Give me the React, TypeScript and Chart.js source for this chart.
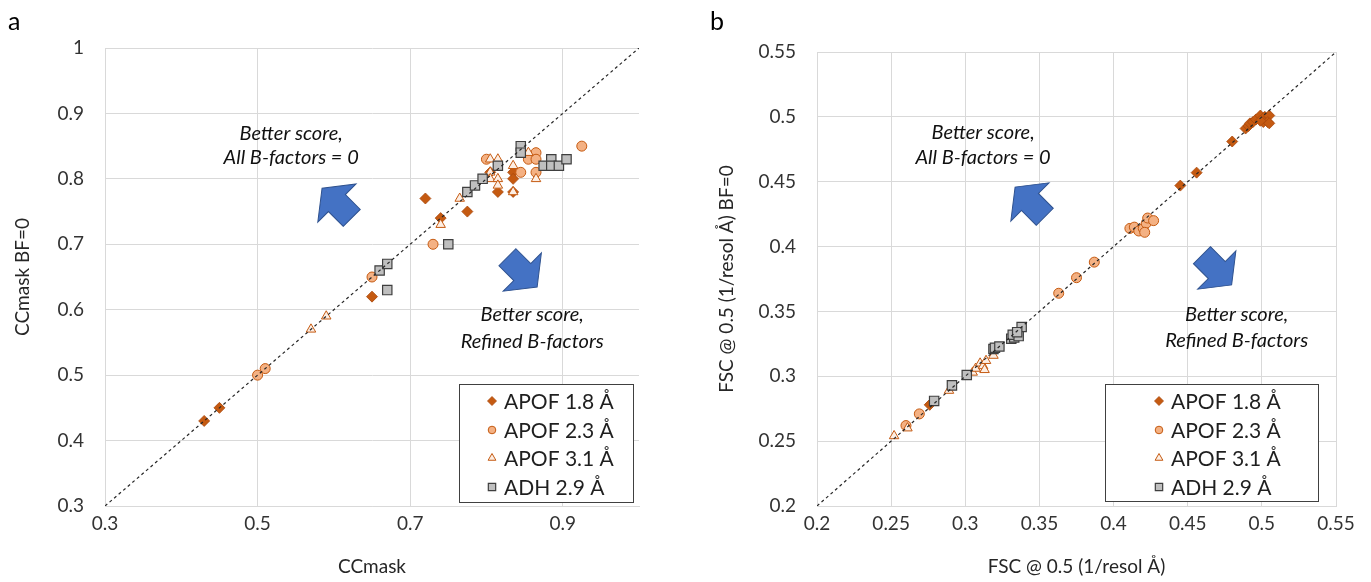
import React, { useEffect, useRef } from "react";
import { Chart, registerables } from "chart.js";
import { drawPoint } from "chart.js/helpers";

Chart.register(...registerables);

const FONT = "Lato, 'Open Sans', sans-serif";

// ---------- Panel a data (CCmask vs CCmask BF=0) ----------
const aApof18: [number, number][] = [
  [0.43, 0.43], [0.45, 0.45], [0.65, 0.62], [0.72, 0.77], [0.74, 0.74], [0.775, 0.75],
  [0.805, 0.81], [0.815, 0.78], [0.835, 0.81], [0.835, 0.8], [0.835, 0.78],
];
const aApof23: [number, number][] = [
  [0.5, 0.5], [0.51, 0.51], [0.65, 0.65], [0.73, 0.7], [0.8, 0.83], [0.845, 0.81],
  [0.855, 0.83], [0.865, 0.84], [0.865, 0.83], [0.865, 0.81], [0.925, 0.85],
];
const aApof31: [number, number][] = [
  [0.57, 0.57], [0.59, 0.59], [0.74, 0.73], [0.765, 0.77], [0.805, 0.83], [0.815, 0.83],
  [0.855, 0.84], [0.835, 0.82], [0.805, 0.81], [0.805, 0.8], [0.815, 0.8], [0.815, 0.79],
  [0.835, 0.78], [0.865, 0.8],
];
const aAdh: [number, number][] = [
  [0.66, 0.66], [0.67, 0.67], [0.67, 0.63], [0.75, 0.7], [0.775, 0.78], [0.785, 0.79],
  [0.795, 0.8], [0.815, 0.82], [0.845, 0.85], [0.845, 0.84], [0.875, 0.82], [0.885, 0.83],
  [0.885, 0.82], [0.895, 0.82], [0.905, 0.83],
];
const aXTicks = [0.3, 0.5, 0.7, 0.9];
const aYTicks = [0.3, 0.4, 0.5, 0.6, 0.7, 0.8, 0.9, 1.0];
const aDiagonal: [number, number][] = [[0.3, 0.3], [1.0, 1.0]];

// ---------- Panel b data (FSC @ 0.5) ----------
const bApof18: [number, number][] = [
  [0.276, 0.278], [0.445, 0.447], [0.456, 0.457], [0.48, 0.481], [0.489, 0.491], [0.491, 0.493],
  [0.492, 0.495], [0.494, 0.496], [0.496, 0.498], [0.499, 0.501], [0.502, 0.5], [0.505, 0.501],
  [0.501, 0.496], [0.504, 0.496], [0.499, 0.497], [0.505, 0.495],
];
const bApof23: [number, number][] = [
  [0.26, 0.262], [0.269, 0.271], [0.363, 0.364], [0.375, 0.376], [0.387, 0.388], [0.411, 0.414],
  [0.414, 0.415], [0.417, 0.412], [0.42, 0.414], [0.422, 0.418], [0.423, 0.422], [0.427, 0.42],
  [0.421, 0.411],
];
const bApof31: [number, number][] = [
  [0.252, 0.254], [0.261, 0.26], [0.289, 0.289], [0.305, 0.303], [0.307, 0.306], [0.31, 0.31],
  [0.312, 0.308], [0.313, 0.305], [0.314, 0.312], [0.319, 0.316],
];
const bAdh: [number, number][] = [
  [0.279, 0.281], [0.291, 0.293], [0.301, 0.301], [0.319, 0.321], [0.32, 0.322], [0.323, 0.323],
  [0.331, 0.329], [0.333, 0.33], [0.332, 0.332], [0.336, 0.331], [0.338, 0.338], [0.335, 0.334],
];
const bTicks = [0.2, 0.25, 0.3, 0.35, 0.4, 0.45, 0.5, 0.55];
const bDiagonal: [number, number][] = [[0.2, 0.2], [0.55, 0.55]];

const seriesNames = ["APOF 1.8 Å", "APOF 2.3 Å", "APOF 3.1 Å", "ADH 2.9 Å"];

// ---------- styles ----------
const seriesStyles = [
  { pointStyle: "rectRot", radius: 5.5, bg: "#C55A11", border: "#A9480B", bw: 0.8, lr: 4.5 },
  { pointStyle: "circle", radius: 5, bg: "#F4B183", border: "#C55A11", bw: 1, lr: 3.8 },
  { pointStyle: "triangle", radius: 5.5, bg: "#FDEEE3", border: "#C55A11", bw: 1, lr: 4.5 },
  { pointStyle: "rect", radius: 6.6, bg: "#BFBFBF", border: "#3F3F3F", bw: 1.2, lr: 5.2 },
];

const fmt = (v: number) => String(Math.round(v * 100) / 100);

function drawArrow(ctx: CanvasRenderingContext2D, cx: number, cy: number, angle: number) {
  const L = 21, SW = 12, HW = 27, HB = 0;
  const pts = [
    [-L, -SW], [HB, -SW], [HB, -HW], [L, 0], [HB, HW], [HB, SW], [-L, SW],
  ];
  ctx.save();
  ctx.translate(cx, cy);
  ctx.rotate(angle);
  ctx.beginPath();
  pts.forEach(([px, py], i) => (i === 0 ? ctx.moveTo(px, py) : ctx.lineTo(px, py)));
  ctx.closePath();
  ctx.fillStyle = "#4472C4";
  ctx.fill();
  ctx.strokeStyle = "#2F528F";
  ctx.lineWidth = 1;
  ctx.stroke();
  ctx.restore();
}

type PanelCfg = {
  series: [number, number][][];
  diagonal: [number, number][];
  xTicks: number[];
  yTicks: number[];
  min: number;
  xMax: number;
  yMax: number;
  xTitle: string;
  yTitle: string;
  yTitlePad: number;
  yAxisWidth: number;
  padRight: number;
  padTop: number;
  letter: string;
  letterX: number;
  texts: { text: string; x: number; y: number }[];
  arrows: { x: number; y: number; angle: number }[];
  legend: { fromRight: number; width: number; fromBottom: number; height: number; symX: number; textX: number; rows: number[] };
  width: number;
};

const panelA: PanelCfg = {
  series: [aApof18, aApof23, aApof31, aAdh],
  diagonal: aDiagonal,
  xTicks: aXTicks,
  yTicks: aYTicks,
  min: 0.3,
  xMax: 1.0,
  yMax: 1.0,
  xTitle: "CCmask",
  yTitle: "CCmask BF=0",
  yTitlePad: 11,
  yAxisWidth: 105,
  padRight: 47,
  padTop: 48,
  letter: "a",
  letterX: 8,
  texts: [
    { text: "Better score,", x: 0.544, y: 0.87 },
    { text: "All B-factors = 0", x: 0.544, y: 0.832 },
    { text: "Better score,", x: 0.86, y: 0.592 },
    { text: "Refined B-factors", x: 0.86, y: 0.552 },
  ],
  arrows: [
    { x: 0.604, y: 0.763, angle: (-3 * Math.PI) / 4 },
    { x: 0.847, y: 0.6575, angle: Math.PI / 4 },
  ],
  legend: { fromRight: 180, width: 174, fromBottom: 122, height: 118, symX: 33, textX: 45, rows: [17, 46, 74, 103] },
  width: 686,
};

const panelB: PanelCfg = {
  series: [bApof18, bApof23, bApof31, bAdh],
  diagonal: bDiagonal,
  xTicks: bTicks,
  yTicks: bTicks,
  min: 0.2,
  xMax: 0.55,
  yMax: 0.55,
  xTitle: "FSC @ 0.5 (1/resol Å)",
  yTitle: "FSC @ 0.5 (1/resol Å) BF=0",
  yTitlePad: 29,
  yAxisWidth: 131,
  padRight: 35,
  padTop: 52,
  letter: "b",
  letterX: 24,
  texts: [
    { text: "Better score,", x: 0.312, y: 0.4877 },
    { text: "All B-factors = 0", x: 0.312, y: 0.4685 },
    { text: "Better score,", x: 0.483, y: 0.3477 },
    { text: "Refined B-factors", x: 0.483, y: 0.3277 },
  ],
  arrows: [
    { x: 0.3436, y: 0.4344, angle: (-3 * Math.PI) / 4 },
    { x: 0.4696, y: 0.3819, angle: Math.PI / 4 },
  ],
  legend: { fromRight: 231, width: 213, fromBottom: 122, height: 117, symX: 54, textX: 66, rows: [17, 46, 74, 103] },
  width: 685,
};

function makeOverlay(cfg: PanelCfg) {
  return {
    id: "overlay",
    afterDraw(chart: any) {
      const { ctx, chartArea } = chart;
      const xs = chart.scales.x;
      const ys = chart.scales.y;
      ctx.save();
      // panel letter
      ctx.font = `25px ${FONT}`;
      ctx.fillStyle = "#000";
      ctx.textAlign = "left";
      ctx.textBaseline = "alphabetic";
      ctx.fillText(cfg.letter, cfg.letterX, 30);

      // annotation text
      ctx.font = `italic 20px ${FONT}`;
      ctx.fillStyle = "#111";
      ctx.textAlign = "center";
      ctx.textBaseline = "middle";
      for (const t of cfg.texts) {
        ctx.fillText(t.text, xs.getPixelForValue(t.x), ys.getPixelForValue(t.y));
      }
      // arrows
      for (const a of cfg.arrows) {
        drawArrow(ctx, xs.getPixelForValue(a.x), ys.getPixelForValue(a.y), a.angle);
      }
      // legend box
      const lg = cfg.legend;
      const bx = chartArea.right - lg.fromRight;
      const by = chartArea.bottom - lg.fromBottom;
      ctx.fillStyle = "#fff";
      ctx.fillRect(bx, by, lg.width, lg.height);
      ctx.strokeStyle = "#404040";
      ctx.lineWidth = 1;
      ctx.strokeRect(bx + 0.5, by + 0.5, lg.width, lg.height);
      seriesNames.forEach((name, i) => {
        const st = seriesStyles[i];
        const ry = by + lg.rows[i];
        ctx.fillStyle = st.bg;
        ctx.strokeStyle = st.border;
        ctx.lineWidth = st.bw;
        drawPoint(ctx, { pointStyle: st.pointStyle as any, radius: st.lr, borderWidth: st.bw, rotation: 0 } as any, bx + lg.symX, ry);
        ctx.fillStyle = "#1f1f1f";
        ctx.font = `21px ${FONT}`;
        ctx.textAlign = "left";
        ctx.textBaseline = "middle";
        ctx.fillText(name, bx + lg.textX, ry + 1);
      });
      ctx.restore();
    },
  };
}

function Panel({ cfg, left }: { cfg: PanelCfg; left: number }) {
  const ref = useRef<HTMLCanvasElement | null>(null);
  useEffect(() => {
    if (!ref.current) return;
    const datasets: any[] = [
      {
        type: "line",
        data: cfg.diagonal.map(([x, y]) => ({ x, y })),
        borderColor: "#262626",
        borderWidth: 1.2,
        borderDash: [3, 3],
        pointRadius: 0,
        fill: false,
        order: 0,
      },
      ...cfg.series.map((s, i) => ({
        type: "scatter",
        label: seriesNames[i],
        data: s.map(([x, y]) => ({ x, y })),
        pointStyle: seriesStyles[i].pointStyle,
        pointRadius: seriesStyles[i].radius,
        pointBackgroundColor: seriesStyles[i].bg,
        pointBorderColor: seriesStyles[i].border,
        pointBorderWidth: seriesStyles[i].bw,
        order: 5 - i,
      })),
    ];
    const tickFont = { family: FONT, size: 19 };
    const titleFont = { family: FONT, size: 19 };
    const chart = new Chart(ref.current, {
      type: "scatter",
      data: { datasets },
      options: {
        animation: false,
        responsive: false,
        devicePixelRatio: 1,
        layout: { padding: { left: 0, top: cfg.padTop, right: cfg.padRight, bottom: 0 } },
        plugins: { legend: { display: false }, tooltip: { enabled: false } },
        scales: {
          x: {
            type: "linear",
            min: cfg.min,
            max: cfg.xMax,
            afterBuildTicks: (s: any) => {
              s.ticks = cfg.xTicks.map((v) => ({ value: v }));
            },
            afterFit: (s: any) => {
              s.height = 76;
            },
            grid: { color: "#d9d9d9", drawTicks: false, lineWidth: 1 },
            border: { display: true, color: "#d9d9d9" },
            ticks: { font: tickFont, color: "#333", padding: 6, maxRotation: 0, autoSkip: false, callback: (v: any) => fmt(Number(v)) },
            title: { display: true, text: cfg.xTitle, font: titleFont, color: "#262626", padding: { top: 0, bottom: 4 } },
          },
          y: {
            type: "linear",
            min: cfg.min,
            max: cfg.yMax,
            afterBuildTicks: (s: any) => {
              s.ticks = cfg.yTicks.map((v) => ({ value: v }));
            },
            afterFit: (s: any) => {
              s.width = cfg.yAxisWidth;
            },
            grid: { color: "#d9d9d9", drawTicks: false, lineWidth: 1 },
            border: { display: true, color: "#d9d9d9" },
            ticks: { font: tickFont, color: "#333", padding: 21, autoSkip: false, callback: (v: any) => fmt(Number(v)) },
            title: { display: true, text: cfg.yTitle, font: titleFont, color: "#262626", padding: { top: cfg.yTitlePad, bottom: 0 } },
          },
        },
      } as any,
      plugins: [makeOverlay(cfg)],
    });
    return () => chart.destroy();
  }, [cfg]);
  return (
    <canvas
      ref={ref}
      width={cfg.width}
      height={582}
      style={{ position: "absolute", left, top: 0, width: cfg.width, height: 582 }}
    />
  );
}

export default function App() {
  return (
    <div style={{ position: "fixed", left: 0, top: 0, width: 1371, height: 582, background: "#fff" }}>
      <Panel cfg={panelA} left={0} />
      <Panel cfg={panelB} left={686} />
    </div>
  );
}
